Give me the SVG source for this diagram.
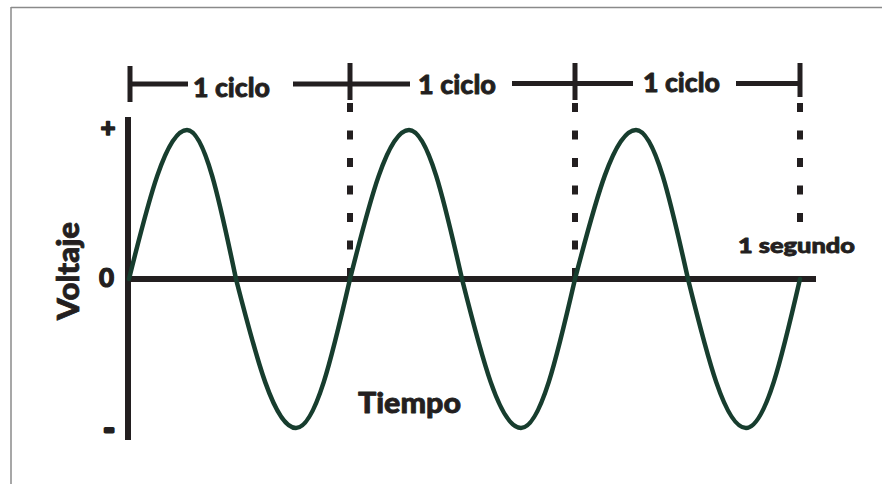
<svg xmlns="http://www.w3.org/2000/svg" width="882" height="484" viewBox="0 0 882 484">
<style>
.ink{stroke:#231f20;fill:none}
.ax{stroke-width:6}
.tk{stroke-width:5}
.br{stroke-width:5}
.dash{stroke-width:6;stroke-dasharray:9 18.5}
.wave{stroke:#173d2e;stroke-width:4.5;fill:none;stroke-linejoin:round;stroke-linecap:round}
.t{font-family:Lato,"Liberation Sans",Arial,sans-serif;font-weight:900;fill:#231f20;stroke:#231f20;stroke-width:0.8;stroke-linejoin:round}
.frame{stroke:#8a8a8a;stroke-width:1.5;fill:none}
</style>
<rect width="882" height="484" fill="#ffffff"/>
<g id="frame">
<line class="frame" x1="11" y1="7.5" x2="882" y2="7.5"/>
<line class="frame" x1="11" y1="7" x2="11" y2="484"/>
</g>
<g id="connectors">
<line class="ink ax" x1="128" y1="117" x2="128" y2="440"/>
<line class="ink ax" x1="125" y1="279" x2="816" y2="279"/>
<line class="ink tk" x1="130" y1="66" x2="130" y2="102"/>
<line class="ink tk" x1="350" y1="63" x2="350" y2="100"/>
<line class="ink tk" x1="575" y1="63" x2="575" y2="100"/>
<line class="ink tk" x1="800" y1="63" x2="800" y2="97"/>
<line class="ink dash" x1="350" y1="103" x2="350" y2="276"/>
<line class="ink dash" x1="575" y1="103" x2="575" y2="276"/>
<line class="ink dash" x1="800" y1="103" x2="800" y2="223"/>
<line class="ink br" x1="130" y1="84" x2="188" y2="84"/>
<line class="ink br" x1="293" y1="84" x2="410" y2="84"/>
<line class="ink br" x1="512" y1="83.5" x2="633" y2="83.5"/>
<line class="ink br" x1="736" y1="83.5" x2="800" y2="83.5"/>
</g>
<g id="wave">
<path class="wave" d="M129 279
c 18.92 -76.33 37.01 -149 58 -149
c 17.73 0 33.02 72.67 49 149
c 19.57 76.33 38.29 149 60 149
c 19.54 0 36.39 -72.67 54 -149
c 19.24 -76.33 37.65 -149 59 -149
c 19.18 0 35.71 72.67 53 149
c 19.24 76.33 37.65 149 59 149
c 19.54 0 36.39 -72.67 54 -149
c 19.89 -76.33 38.92 -149 61 -149
c 18.82 0 35.04 72.67 52 149
c 18.92 76.33 37.01 149 58 149
c 19.54 0 36.39 -72.67 54 -149"/>
</g>
<g id="labels">
<text class="t" x="193" y="97" font-size="26" textLength="77" lengthAdjust="spacingAndGlyphs">1 ciclo</text>
<text class="t" x="418" y="94" font-size="26" textLength="78" lengthAdjust="spacingAndGlyphs">1 ciclo</text>
<text class="t" x="643" y="92" font-size="26" textLength="77" lengthAdjust="spacingAndGlyphs">1 ciclo</text>
<text class="t" x="738" y="253" font-size="21" textLength="117" lengthAdjust="spacingAndGlyphs">1 segundo</text>
<text class="t" x="358" y="413" font-size="29" textLength="103" lengthAdjust="spacingAndGlyphs">Tiempo</text>
<text class="t" transform="translate(79,271) rotate(-90)" x="0" y="0" font-size="30" text-anchor="middle" textLength="98" lengthAdjust="spacingAndGlyphs">Voltaje</text>
<text class="t" x="108" y="137" font-size="26" text-anchor="middle" style="stroke-width:1.5">+</text>
<text class="t" x="106.5" y="287" font-size="26" text-anchor="middle" style="stroke-width:1.2">0</text>
<text class="t" x="109" y="440" font-size="30" text-anchor="middle" style="stroke-width:3">-</text>
</g>
</svg>
